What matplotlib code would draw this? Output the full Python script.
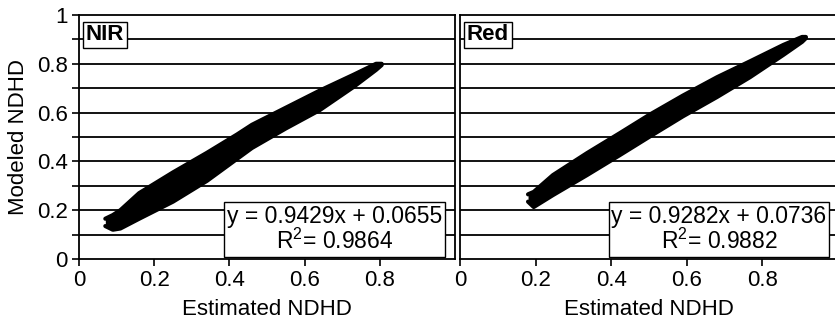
#!/usr/bin/env python3
import matplotlib

matplotlib.use("Agg")
import matplotlib.pyplot as plt

plt.rcParams["font.family"] = ["Liberation Sans", "DejaVu Sans"]
plt.rcParams["mathtext.fontset"] = "custom"
plt.rcParams["mathtext.rm"] = "Liberation Sans"
plt.rcParams["mathtext.it"] = "Liberation Sans"

nir_x = [0.07, 0.09, 0.11, 0.16, 0.25, 0.34, 0.42, 0.46, 0.55, 0.64, 0.73, 0.79, 0.805]
nir_upper = [0.165, 0.18, 0.20, 0.27, 0.355, 0.435, 0.51, 0.55, 0.62, 0.69, 0.755, 0.80, 0.80]
nir_lower = [0.135, 0.12, 0.125, 0.165, 0.235, 0.32, 0.41, 0.455, 0.535, 0.61, 0.705, 0.775, 0.795]

red_x = [0.18, 0.195, 0.246, 0.336, 0.423, 0.50, 0.59, 0.68, 0.767, 0.855, 0.905, 0.915]
red_upper = [0.265, 0.275, 0.344, 0.434, 0.516, 0.59, 0.67, 0.745, 0.81, 0.877, 0.91, 0.91]
red_lower = [0.235, 0.213, 0.262, 0.344, 0.426, 0.50, 0.585, 0.664, 0.745, 0.836, 0.89, 0.905]

panel_names = ["NIR", "Red"]
equations = ["y = 0.9429x + 0.0655", "y = 0.9282x + 0.0736"]
r_squared = ["0.9864", "0.9882"]

x_ticks = [0, 0.2, 0.4, 0.6, 0.8]
x_tick_labels = ["0", "0.2", "0.4", "0.6", "0.8"]
y_ticks = [0, 0.2, 0.4, 0.6, 0.8, 1.0]
y_tick_labels = ["0", "0.2", "0.4", "0.6", "0.8", "1"]
y_minor = [0.1, 0.3, 0.5, 0.7, 0.9]
grid_levels = [0.1, 0.2, 0.3, 0.4, 0.5, 0.6, 0.7, 0.8, 0.9]

FS = 16


def draw_panel(ax, xs, upper, lower, name, eq, r2, box_x):
    ax.set_xlim(0, 1)
    ax.set_ylim(0, 1)
    for g in grid_levels:
        ax.axhline(g, color="black", lw=1.3, zorder=1)
    ax.fill_between(xs, lower, upper, color="black", lw=0, zorder=2)
    ax.plot(xs, upper, color="black", lw=3, solid_capstyle="round", zorder=2)
    ax.plot(xs, lower, color="black", lw=3, solid_capstyle="round", zorder=2)

    for s in ax.spines.values():
        s.set_linewidth(1.3)
        s.set_color("black")

    ax.set_xticks(x_ticks)
    ax.set_xticklabels(x_tick_labels, fontsize=FS)
    ax.tick_params(axis="x", direction="out", length=5, width=1.2, pad=3)
    ax.set_xlabel("Estimated NDHD", fontsize=FS, labelpad=6)

    ax.text(0.018, 0.962, name, transform=ax.transAxes, ha="left", va="top",
            fontsize=FS, fontweight="bold", zorder=5,
            bbox=dict(boxstyle="square,pad=0.12", fc="white", ec="black", lw=1))
    ax.text(box_x, 0.122, eq + "\n" + "R$^{2}$= " + r2, transform=ax.transAxes,
            ha="center", va="center", multialignment="center", linespacing=1.05,
            fontsize=FS + 0.5, zorder=5,
            bbox=dict(boxstyle="square,pad=0.12", fc="white", ec="black", lw=1))


fig = plt.figure(figsize=(8.35, 3.2), dpi=100)
ax1 = fig.add_axes([79 / 835, 61 / 320, 376 / 835, 244 / 320])
ax2 = fig.add_axes([460 / 835, 61 / 320, 378 / 835, 244 / 320])

draw_panel(ax1, nir_x, nir_upper, nir_lower, panel_names[0], equations[0], r_squared[0], 0.68)
draw_panel(ax2, red_x, red_upper, red_lower, panel_names[1], equations[1], r_squared[1], 0.685)

ax1.set_yticks(y_ticks)
ax1.set_yticklabels(y_tick_labels, fontsize=FS)
ax1.set_yticks(y_minor, minor=True)
ax1.tick_params(axis="y", which="both", direction="out", length=5, width=1.2, pad=3)
ax1.set_ylabel("Modeled NDHD", fontsize=FS, labelpad=6)

ax2.set_yticks([])

fig.savefig("out.png", dpi=100)
